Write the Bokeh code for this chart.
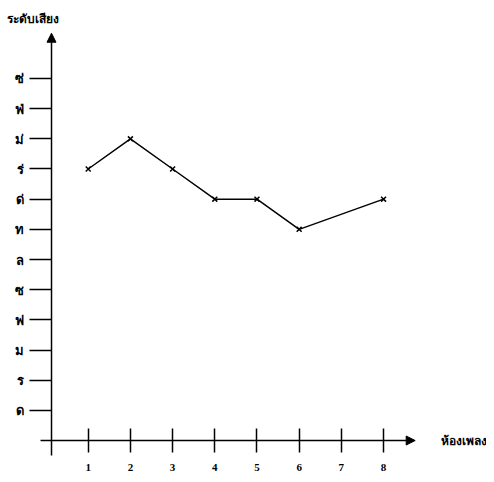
from bokeh.plotting import figure
from bokeh.models import Range1d, FixedTicker, Arrow, NormalHead, Label
from bokeh.embed import file_html
from bokeh.resources import INLINE

# data
measures = [1, 2, 3, 4, 5, 6, 8]
levels = [9, 10, 9, 8, 8, 7, 8]
x_ticks = [1, 2, 3, 4, 5, 6, 7, 8]
y_ticks = list(range(1, 13))
y_tick_labels = ["ด", "ร", "ม", "ฟ", "ซ", "ล", "ท", "ด่", "ร่", "ม่", "ฟ่", "ซ่"]
y_title = "ระดับเสียง"
x_title = "ห้องเพลง"

W, H = 486, 478
p = figure(width=W, height=H, output_backend="svg", toolbar_location=None,
           x_range=Range1d(-1.079, 10.44), y_range=Range1d(-1.259, 14.585),
           min_border=0, min_border_left=0, min_border_right=0,
           min_border_top=0, min_border_bottom=0)
p.outline_line_color = None
p.grid.visible = False
p.background_fill_color = "white"

# axes placed inside the frame
p.xaxis.fixed_location = 0
p.yaxis.fixed_location = 0.13
for ax in p.xaxis + p.yaxis:
    ax.axis_line_color = None
    ax.major_tick_line_color = "black"
    ax.major_tick_line_width = 1.5
    ax.minor_tick_line_color = None
    ax.major_label_text_color = "black"
    ax.major_label_text_font_style = "bold"

p.xaxis.ticker = FixedTicker(ticks=x_ticks)
p.xaxis.major_tick_in = 12
p.xaxis.major_tick_out = 12
p.xaxis.major_label_standoff = 11
p.xaxis.major_label_text_font = "Liberation Serif"
p.xaxis.major_label_text_font_size = "11px"

p.yaxis.ticker = FixedTicker(ticks=y_ticks)
p.yaxis.major_label_overrides = {t: l for t, l in zip(y_ticks, y_tick_labels)}
p.yaxis.major_tick_in = 0
p.yaxis.major_tick_out = 22
p.yaxis.major_label_standoff = 6
p.yaxis.major_label_text_font = "Noto Sans"
p.yaxis.major_label_text_font_size = "13px"

# axis lines with arrows
p.add_layout(Arrow(end=NormalHead(size=9, fill_color="black", line_color="black"),
                   x_start=0.13, y_start=-0.5, x_end=0.13, y_end=13.5,
                   line_width=1.5, line_color="black"))
p.add_layout(Arrow(end=NormalHead(size=9, fill_color="black", line_color="black"),
                   x_start=-0.13, y_start=0, x_end=8.75, y_end=0,
                   line_width=1.5, line_color="black"))

# data line
p.line(measures, levels, line_color="black", line_width=1.5)
p.scatter(measures, levels, marker="x", size=7, line_color="black", line_width=1.5)

# titles
p.add_layout(Label(x=-0.92, y=14.0, text=y_title, text_font="Noto Sans",
                   text_font_size="12px", text_font_style="bold", text_color="black",
                   text_baseline="middle"))
p.add_layout(Label(x=9.35, y=0, text=x_title, text_font="Noto Sans",
                   text_font_size="12px", text_font_style="bold", text_color="black",
                   text_baseline="middle"))

open("out.html", "w").write(file_html(p, INLINE))
